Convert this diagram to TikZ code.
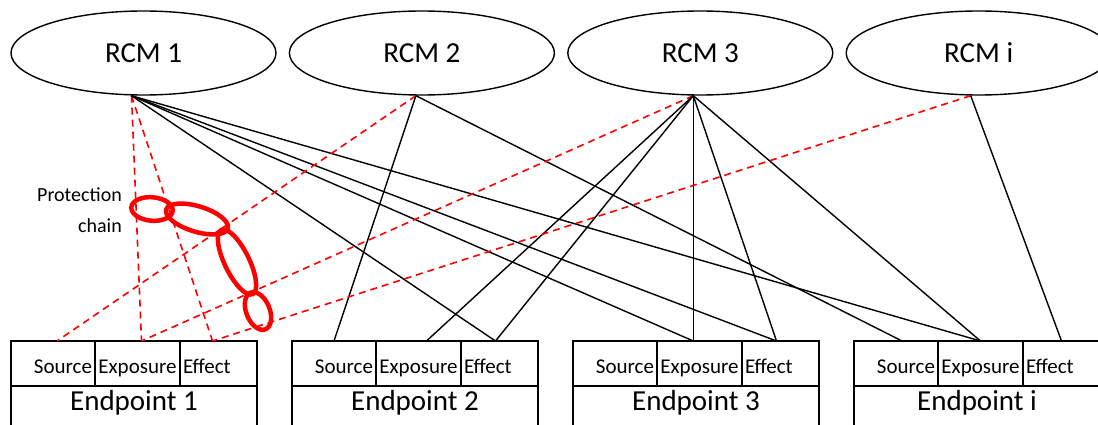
\documentclass[tikz,border=0pt]{standalone}
\usepackage{fontspec}
\setmainfont{Carlito}
\usetikzlibrary{positioning,shapes.geometric}
\def\rcmwidth{265pt}
\def\rcmheight{84pt}
\def\rcmsep{12pt}
\def\boxwidth{246pt}
\def\boxsep{35pt}

\begin{document}
\begin{tikzpicture}[
  node distance=\rcmsep,
  rcm/.style={draw,ellipse,line width=1.4pt,minimum width=\rcmwidth,minimum height=\rcmheight,inner sep=0pt,font=\fontsize{29}{34}\selectfont},
  cell/.style={draw,line width=1.5pt,inner xsep=3pt,inner ysep=0pt,outer sep=0pt,text height=32pt,text depth=13pt,font=\fontsize{21}{25}\selectfont},
  src/.style={cell,text width=78pt,align=right},
  expo/.style={cell,text width=79pt,align=center},
  eff/.style={cell,text width=71pt,align=left},
  endpt/.style={draw,line width=1.5pt,minimum width=\boxwidth,inner ysep=0pt,outer sep=0pt,text height=24pt,text depth=40pt,font=\fontsize{29}{34}\selectfont},
  wire/.style={draw,line width=1.4pt},
  protline/.style={draw=red,line width=1.6pt,dash pattern=on 7pt off 5pt},
  chainlink/.style={draw=red,ellipse,line width=4.5pt,inner sep=0pt},
]
\useasboundingbox (0,0) rectangle (1098pt,-425pt);
\clip (0,0) rectangle (1098pt,-425pt);

%%%%%%%%%%%%%%%
% RCMs
%%%%%%%%%%%%%%%
\node (r1) [rcm] at (143.5pt,-53pt) {RCM 1};
\node (r2) [rcm,right=of r1] {RCM 2};
\node (r3) [rcm,right=of r2] {RCM 3};
\node (r4) [rcm,right=of r3] {RCM i};

% hub points under the ellipses
\coordinate (h1) at ([xshift=-12pt]r1.south);
\coordinate (h2) at ([xshift=-6pt]r2.south);
\coordinate (h3) at ([xshift=-7pt]r3.south);
\coordinate (h4) at ([xshift=-8pt]r4.south);

%%%%%%%%%%%%%%%
% Endpoints
%%%%%%%%%%%%%%%
\node (e1src) [src,anchor=north west] at (11pt,-341pt) {Source};
\node (e1exp) [expo,right=0pt of e1src] {Exposure};
\node (e1eff) [eff,right=0pt of e1exp] {Effect};
\node (e1) [endpt,anchor=north west] at (e1src.south west) {Endpoint 1};

\node (e2src) [src,right=\boxsep of e1eff] {Source};
\node (e2exp) [expo,right=0pt of e2src] {Exposure};
\node (e2eff) [eff,right=0pt of e2exp] {Effect};
\node (e2) [endpt,anchor=north west] at (e2src.south west) {Endpoint 2};

\node (e3src) [src,right=\boxsep of e2eff] {Source};
\node (e3exp) [expo,right=0pt of e3src] {Exposure};
\node (e3eff) [eff,right=0pt of e3exp] {Effect};
\node (e3) [endpt,anchor=north west] at (e3src.south west) {Endpoint 3};

\node (e4src) [src,right=\boxsep of e3eff] {Source};
\node (e4exp) [expo,right=0pt of e4src] {Exposure};
\node (e4eff) [eff,right=0pt of e4exp] {Effect};
\node (e4) [endpt,anchor=north west] at (e4src.south west) {Endpoint i};

%%%%%%%%%%%%%%%
% Connections
%%%%%%%%%%%%%%%
% RCM 1
\draw[protline] (h1) -- ([xshift=4pt]e1exp.north);
\draw[protline] (h1) -- ([xshift=-6pt]e1eff.north);
\draw[wire] (h1) -- ([xshift=-4pt]e2eff.north);
\draw[wire] (h1) -- (h3 |- e3exp.north);
\draw[wire] (h1) -- ([xshift=-4pt]e3eff.north);
\draw[wire] (h1) -- (e4exp.north);
% RCM 2
\draw[protline] (h2) -- ([xshift=4pt]e1src.north);
\draw[wire] (h2) -- (e2src.north);
\draw[wire] (h2) -- ([xshift=6pt]e4src.north);
% RCM 3
\draw[protline] (h3) -- ([xshift=4pt]e1exp.north);
\draw[wire] (h3) -- ([xshift=8pt]e2exp.north);
\draw[wire] (h3) -- ([xshift=-4pt]e2eff.north);
\draw[wire] (h3) -- (h3 |- e3exp.north);
\draw[wire] (h3) -- ([xshift=-4pt]e3eff.north);
\draw[wire] (h3) -- (e4exp.north);
% RCM i
\draw[protline] (h4) -- ([xshift=-6pt]e1eff.north);
\draw[wire] (h4) -- (e4eff.north);

%%%%%%%%%%%%%%%
% Protection chain
%%%%%%%%%%%%%%%
\node (c1) [chainlink,minimum width=41.5pt,minimum height=23.5pt,rotate=-5] at (152pt,-209pt) {};
\node (c2) [chainlink,minimum width=64.5pt,minimum height=25.5pt,rotate=-17] at (197pt,-219pt) {};
\node (c3) [chainlink,minimum width=71.5pt,minimum height=24.5pt,rotate=-64] at (237pt,-262pt) {};
\node (c4) [chainlink,minimum width=39.5pt,minimum height=23.5pt,rotate=-68] at (258pt,-311pt) {};
\node (pc) [anchor=east,align=right,inner sep=0pt,font=\fontsize{20}{31}\selectfont] at (122pt,-210pt) {Protection\\chain};

\end{tikzpicture}
\end{document}
